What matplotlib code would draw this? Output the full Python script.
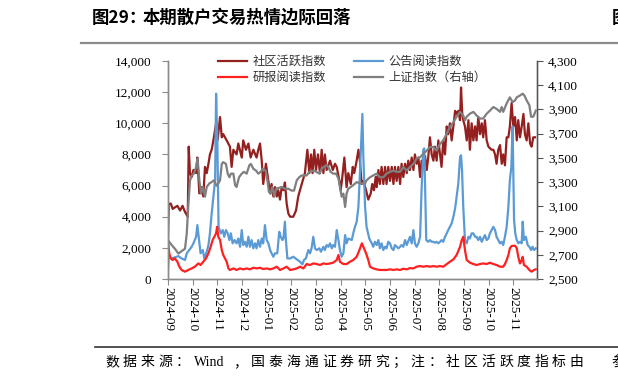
import matplotlib
matplotlib.use('Agg')
import matplotlib.pyplot as plt
from matplotlib.lines import Line2D

plt.rcParams['font.family'] = ['Noto Sans CJK SC', 'DejaVu Sans']

# x = months since 2024-09 (fractional)
month_labels = ['2024-09', '2024-10', '2024-11', '2024-12', '2025-01', '2025-02',
                '2025-03', '2025-04', '2025-05', '2025-06', '2025-07', '2025-08',
                '2025-09', '2025-10', '2025-11']

# 社区活跃指数
comm_x = [0.00, 0.03, 0.11, 0.19, 0.28, 0.38, 0.49, 0.59, 0.69, 0.76, 0.80, 0.84, 0.89, 0.96,
          1.03, 1.14, 1.19, 1.27, 1.36, 1.43, 1.50, 1.57, 1.64, 1.70, 1.77, 1.84, 1.95, 2.01,
          2.11, 2.18, 2.24, 2.38, 2.51, 2.58, 2.65, 2.78, 2.85, 2.99, 3.05, 3.16, 3.26, 3.35,
          3.46, 3.59, 3.66, 3.73, 3.80, 3.86, 3.97, 4.07, 4.14, 4.20, 4.27, 4.34, 4.41, 4.47,
          4.54, 4.61, 4.68, 4.74, 4.81, 4.88, 4.95, 5.08, 5.19, 5.28, 5.35, 5.46, 5.55, 5.65,
          5.73, 5.80, 5.86, 5.93, 6.00, 6.08, 6.16, 6.23, 6.30, 6.36, 6.43, 6.57, 6.68, 6.77,
          6.84, 6.95, 7.00, 7.05, 7.15, 7.24, 7.31, 7.41, 7.49, 7.55, 7.65, 7.72, 7.78, 7.85,
          7.92, 8.03, 8.12, 8.22, 8.28, 8.35, 8.42, 8.46, 8.53, 8.59, 8.66, 8.73, 8.80, 8.86,
          8.93, 9.00, 9.07, 9.14, 9.20, 9.27, 9.34, 9.41, 9.47, 9.54, 9.61, 9.68, 9.74, 9.81,
          9.88, 9.95, 10.01, 10.08, 10.15, 10.22, 10.28, 10.35, 10.42, 10.49, 10.55, 10.62,
          10.69, 10.76, 10.82, 10.89, 10.96, 11.03, 11.09, 11.16, 11.23, 11.30, 11.36, 11.43,
          11.50, 11.57, 11.64, 11.70, 11.77, 11.84, 11.88, 11.93, 11.97, 12.04, 12.11, 12.18,
          12.24, 12.31, 12.38, 12.45, 12.51, 12.58, 12.65, 12.72, 12.78, 12.85, 12.92, 12.99,
          13.05, 13.12, 13.19, 13.26, 13.32, 13.39, 13.46, 13.53, 13.59, 13.66, 13.73, 13.80,
          13.86, 13.93, 14.00, 14.07, 14.14, 14.20, 14.27, 14.34, 14.41, 14.47, 14.54, 14.61,
          14.68, 14.74, 14.81, 14.88]
comm_y = [2500, 4800, 4850, 4500, 4600, 4700, 4400, 4700, 4300, 4100, 4000, 8500, 6800, 6550,
          7000, 6800, 7800, 5500, 5900, 5300, 7200, 6800, 7400, 8000, 8300, 8900, 10000, 8900,
          10400, 9100, 9300, 8900, 8500, 7200, 8300, 8000, 8700, 7800, 8900, 8300, 8700, 7800,
          8300, 7800, 8300, 8700, 7600, 6100, 7400, 6300, 5500, 6100, 5300, 5900, 5300, 5700,
          5100, 5900, 5700, 6200, 4850, 4200, 4000, 4000, 4400, 5300, 5700, 6300, 6800, 8300,
          6800, 8000, 6800, 8300, 7000, 8000, 6800, 8300, 6800, 8000, 7000, 7600, 7000, 7400,
          7200, 6300, 5700, 6300, 7800, 5900, 6800, 6100, 7200, 6800, 7600, 8300, 7600, 6100,
          6300, 5700, 5100, 5500, 6100, 5700, 6550, 5900, 7000, 6100, 7200, 6100, 7200, 6100,
          7200, 6300, 7200, 6100, 7200, 6300, 7200, 6100, 7400, 6550, 7400, 6800, 7600, 7000,
          7800, 7000, 8000, 7400, 7800, 6550, 7600, 7200, 7900, 7000, 7800, 9100,
          8000, 7600, 8500, 7600, 8900, 8000, 7200, 8900, 8000, 9800, 9300, 10000,
          8900, 9800, 10800, 10600, 10800, 10200, 12300, 10600, 10200, 9800, 8900, 10200,
          8300, 10000, 8900, 9800, 8900, 10400, 9300, 10000, 9100, 10200, 8900, 8500,
          8400, 8300, 8300, 8000, 7400, 8300, 8600, 7400, 8000, 7300, 9100, 9100,
          9800, 11300, 9800, 10400, 8900, 10200, 9100, 9800, 10600, 9300, 8900, 10000,
          8700, 8500, 9100, 9100]

# 公告阅读指数
ann_x = [0.00, 0.03, 0.15, 0.28, 0.42, 0.55, 0.69, 0.76, 0.86, 0.96, 1.03, 1.14, 1.19, 1.26,
         1.32, 1.41, 1.47, 1.57, 1.64, 1.70, 1.77, 1.84, 1.91, 1.95, 2.00, 2.05, 2.14, 2.22,
         2.28, 2.35, 2.42, 2.49, 2.55, 2.62, 2.70, 2.78, 2.85, 2.92, 2.99, 3.05, 3.12, 3.19,
         3.26, 3.32, 3.39, 3.46, 3.53, 3.59, 3.66, 3.73, 3.80, 3.86, 3.93, 4.00, 4.07, 4.14,
         4.20, 4.27, 4.34, 4.43, 4.51, 4.57, 4.64, 4.68, 4.74, 4.78, 4.84, 4.95, 5.08, 5.22,
         5.35, 5.45, 5.51, 5.59, 5.69, 5.76, 5.82, 5.89, 5.96, 6.03, 6.14, 6.20, 6.30, 6.36,
         6.43, 6.50, 6.57, 6.64, 6.70, 6.77, 6.84, 6.91, 6.97, 7.04, 7.11, 7.18, 7.24, 7.31,
         7.45, 7.51, 7.58, 7.65, 7.72, 7.78, 7.88, 7.92, 7.99, 8.05, 8.16, 8.26, 8.32, 8.39,
         8.46, 8.53, 8.59, 8.66, 8.73, 8.80, 8.86, 8.93, 9.00, 9.07, 9.14, 9.20, 9.27, 9.34,
         9.41, 9.47, 9.54, 9.61, 9.68, 9.81, 9.88, 9.95, 10.01, 10.08, 10.15, 10.22, 10.28,
         10.35, 10.39, 10.43, 10.47, 10.55, 10.62, 10.69, 10.76, 10.82, 10.89, 10.96, 11.03,
         11.09, 11.16, 11.23, 11.30, 11.36, 11.43, 11.50, 11.57, 11.64, 11.70, 11.77, 11.84,
         11.88, 11.92, 11.97, 12.04, 12.11, 12.18, 12.24, 12.31, 12.38, 12.45, 12.51, 12.58,
         12.65, 12.72, 12.78, 12.85, 12.92, 12.99, 13.05, 13.12, 13.19, 13.26, 13.32, 13.39,
         13.46, 13.53, 13.59, 13.66, 13.73, 13.80, 13.86, 13.92, 13.97, 14.03, 14.08, 14.14,
         14.20, 14.27, 14.34, 14.38, 14.43, 14.51, 14.58, 14.65, 14.72, 14.78, 14.84, 14.91]
ann_y = [580, 1430, 1320, 1390, 1470, 1320, 1220, 1650, 1860, 2070, 2290, 2710, 3460, 2500,
         1650, 1860, 1320, 1750, 2180, 2930, 4200, 5280, 6350, 11900, 8900, 3350, 2930, 3140,
         2710, 3140, 2930, 2500, 2930, 2290, 2500, 2290, 2600, 2070, 3140, 2180, 2390, 2070,
         2710, 2070, 2500, 1970, 2290, 1970, 2500, 2070, 2600, 2290, 3460, 2500, 2290, 1860,
         1650, 1430, 1650, 1650, 3030, 2710, 2500, 2600, 3680, 2500, 1320, 1320, 1430, 1260,
         1110, 940, 1220, 1320, 1860, 1650, 1970, 2710, 1970, 1860, 1970, 1750, 2070, 1860,
         2180, 2070, 2290, 1970, 2180, 2070, 3140, 2500, 1860, 1430, 1650, 2820, 2290, 2600,
         2500, 2930, 3350, 3680, 4640, 6770, 10600, 7840, 4640, 3350, 2600, 2290, 2070, 2390,
         2180, 2500, 1970, 2290, 1860, 2070, 1970, 2390, 2290, 1970, 1860, 2180, 2070, 1970,
         2070, 2180, 2070, 2500, 2180, 2710, 2290, 3140, 2290, 2070, 2290, 2710, 5710,
         8300, 8380, 5490, 2500, 2390, 2500, 2390, 2390, 2330, 2390, 2290, 2390,
         2500, 2390, 2710, 2930, 3140, 3350, 3570, 4000, 4530, 5280, 6130, 7840,
         7950, 7000, 4640, 2500, 2290, 2710, 2600, 2930, 2930, 2710, 2710, 2500,
         2710, 2390, 2600, 2820, 2500, 2600, 2930, 3140, 3350, 3140, 2710, 2500,
         2290, 2390, 2180, 2710, 3350, 4640, 6350, 7200, 9800, 3780, 2930, 2500,
         2290, 2390, 2290, 3680, 2500, 2710, 2180, 2070, 1860, 2070, 1860, 1970]

# 研报阅读指数
rpt_x = [0.00, 0.05, 0.11, 0.19, 0.28, 0.38, 0.46, 0.55, 0.69, 0.82, 0.96, 1.09, 1.23, 1.32,
         1.43, 1.54, 1.64, 1.73, 1.81, 1.88, 1.95, 1.99, 2.04, 2.11, 2.18, 2.24, 2.31, 2.38,
         2.45, 2.51, 2.65, 2.78, 2.92, 3.05, 3.19, 3.32, 3.46, 3.59, 3.73, 3.86, 4.00, 4.14,
         4.27, 4.41, 4.54, 4.68, 4.81, 4.95, 5.08, 5.22, 5.35, 5.49, 5.62, 5.76, 5.89, 6.03,
         6.16, 6.30, 6.43, 6.57, 6.70, 6.84, 6.91, 6.97, 7.11, 7.24, 7.38, 7.51, 7.65, 7.76,
         7.86, 7.92, 8.03, 8.12, 8.19, 8.32, 8.46, 8.59, 8.73, 8.86, 9.00, 9.14, 9.27, 9.41,
         9.54, 9.68, 9.81, 9.95, 10.08, 10.22, 10.35, 10.49, 10.62, 10.76, 10.89, 11.03,
         11.16, 11.30, 11.43, 11.57, 11.70, 11.84, 11.91, 11.97, 12.04, 12.11, 12.24, 12.38,
         12.51, 12.65, 12.78, 12.92, 13.05, 13.19, 13.32, 13.46, 13.59, 13.66, 13.73, 13.80,
         13.86, 13.93, 14.07, 14.14, 14.20, 14.27, 14.34, 14.38, 14.43, 14.54, 14.65, 14.74,
         14.84, 14.91]
rpt_y = [2500, 1650, 1320, 1220, 1320, 1110, 790, 580, 470, 580, 680, 790, 1000, 900,
         1110, 1320, 1650, 2070, 2500, 2710, 2930, 3350, 2710, 2500, 1860, 1540, 1320, 1110,
         680, 580, 680, 580, 680, 620, 680, 620, 720, 680, 720, 640, 680, 620,
         680, 790, 580, 680, 790, 580, 620, 680, 790, 680, 960, 900, 1000, 960,
         900, 1000, 960, 1000, 1050, 1220, 1540, 1110, 960, 960, 1110, 1220, 1430, 1860,
         2290, 2070, 1650, 1220, 790, 680, 620, 580, 580, 580, 620, 580, 620, 580,
         660, 620, 700, 680, 790, 830, 790, 830, 790, 830, 790, 830,
         790, 960, 1110, 1260, 1540, 2070, 2500, 2710, 1860, 1220, 1050, 960,
         900, 960, 1000, 960, 1050, 960, 900, 790, 790, 960, 1220, 1540,
         1970, 2120, 2140, 1970, 1430, 1000, 1220, 1430, 900, 790, 580, 470,
         580, 620]

# 上证指数 (right axis)
sh_x = [0.00, 0.15, 0.28, 0.42, 0.55, 0.69, 0.76, 0.82, 0.89, 0.96, 1.05, 1.14, 1.20, 1.27,
        1.34, 1.41, 1.50, 1.57, 1.68, 1.77, 1.86, 1.97, 2.04, 2.11, 2.18, 2.24, 2.35, 2.42,
        2.49, 2.55, 2.65, 2.72, 2.78, 2.88, 2.99, 3.08, 3.19, 3.30, 3.36, 3.46, 3.57, 3.66,
        3.76, 3.84, 3.96, 4.03, 4.09, 4.16, 4.23, 4.31, 4.38, 4.61, 4.74, 4.88, 5.01, 5.11,
        5.22, 5.32, 5.42, 5.62, 5.73, 5.92, 6.14, 6.23, 6.32, 6.41, 6.50, 6.59, 6.70, 6.81,
        6.91, 6.97, 7.04, 7.11, 7.18, 7.24, 7.31, 7.41, 7.51, 7.65, 7.78, 7.99, 8.05, 8.19,
        8.32, 8.46, 8.59, 8.73, 8.86, 9.00, 9.14, 9.27, 9.41, 9.54, 9.68, 9.81, 9.95, 10.08,
        10.22, 10.35, 10.49, 10.62, 10.76, 10.89, 11.03, 11.16, 11.30, 11.43, 11.57, 11.70,
        11.84, 11.97, 12.04, 12.11, 12.24, 12.38, 12.51, 12.65, 12.78, 12.92, 13.05, 13.19,
        13.32, 13.46, 13.53, 13.59, 13.73, 13.86, 13.97, 14.07, 14.14, 14.27, 14.38, 14.45,
        14.54, 14.65, 14.72, 14.81, 14.91]
sh_y = [2820, 2780, 2750, 2710, 2730, 2750, 2875, 3095, 3310, 3355, 3370, 3425, 3495, 3315,
        3205, 3260, 3180, 3260, 3290, 3300, 3315, 3270, 3290, 3315, 3450, 3465, 3450, 3370,
        3340, 3370, 3370, 3275, 3260, 3340, 3370, 3385, 3370, 3440, 3450, 3410, 3395, 3370,
        3385, 3410, 3395, 3315, 3220, 3205, 3260, 3180, 3245, 3260, 3245, 3245, 3230, 3230,
        3315, 3340, 3355, 3355, 3385, 3395, 3370, 3410, 3425, 3440, 3425, 3385, 3370, 3370,
        3330, 3260, 3180, 3205, 3095, 3205, 3245, 3260, 3275, 3300, 3290, 3290, 3315, 3340,
        3355, 3370, 3340, 3340, 3370, 3385, 3395, 3385, 3385, 3425, 3395, 3425, 3450, 3495,
        3505, 3535, 3560, 3590, 3590, 3560, 3615, 3645, 3700, 3755, 3795, 3840,
        3880, 3850, 3810, 3840, 3865, 3880, 3850, 3825, 3825, 3865, 3890, 3920,
        3905, 3880, 3920, 3880, 3950, 4000, 3960, 3975, 4000, 4015, 4030, 4015,
        3975, 3935, 3840, 3840, 3890]

W, H = 618, 384
fig = plt.figure(figsize=(W / 100, H / 100), dpi=100)


def fx(px):
    return px / W


def fy(py):
    return 1 - py / H


ax = fig.add_axes([fx(168), fy(279), fx(537) - fx(168), fy(61) - fy(279)])
ax2 = ax.twinx()

c_comm = '#93201f'
c_ann = '#5b9bd5'
c_rpt = '#ff2020'
c_sh = '#7f7f7f'
lw = 1.6

l1, = ax.plot(comm_x, comm_y, color=c_comm, lw=lw, label='社区活跃指数')
l2, = ax.plot(ann_x, ann_y, color=c_ann, lw=lw, label='公告阅读指数')
l3, = ax.plot(rpt_x, rpt_y, color=c_rpt, lw=lw, label='研报阅读指数')
l4, = ax2.plot(sh_x, sh_y, color=c_sh, lw=lw, label='上证指数（右轴）')

ax.set_xlim(0, 14.96)
ax.set_ylim(0, 14000)
ax2.set_ylim(2500, 4300)

serif = 'Liberation Serif'
ax.set_yticks(range(0, 14001, 2000))
ax.set_yticklabels([f'{v:,}' for v in range(0, 14001, 2000)], fontfamily=serif, fontsize=9.5)
ax2.set_yticks(range(2500, 4301, 200))
ax2.set_yticklabels([f'{v:,}' for v in range(2500, 4301, 200)], fontfamily=serif, fontsize=9.5)
ax.set_xticks(range(len(month_labels)))
ax.set_xticklabels(month_labels, rotation=270, fontfamily=serif, fontsize=9.5)

spine_c = '#8c8c8c'
for a in (ax, ax2):
    a.spines['top'].set_visible(False)
    for s in ('left', 'bottom', 'right'):
        a.spines[s].set_color(spine_c)
        a.spines[s].set_linewidth(1.0)
ax2.spines['right'].set_color('#555555')
ax.tick_params(axis='y', length=4, width=0.8, color=spine_c, pad=8)
ax.tick_params(axis='x', length=4, width=0.8, color=spine_c, pad=2)
ax2.tick_params(axis='y', length=4, width=0.8, color='#555555', pad=4)

# legend fills column-wise, so order handles to get the reference's rows
leg = ax2.legend(handles=[l1, l3, l2, l4], ncol=2, frameon=False, fontsize=8.8,
                 loc='upper left', bbox_to_anchor=(fx(218), fy(55)),
                 bbox_transform=fig.transFigure, borderpad=0, borderaxespad=0,
                 handlelength=2.4, handletextpad=0.4, columnspacing=2.3,
                 labelspacing=0.25)
for t in leg.get_texts():
    t.set_color('#333333')

# title
fig.text(fx(92), fy(18), '图29：', fontsize=12.5, fontweight='bold', va='center', ha='left')
fig.text(fx(143), fy(18), '本期散户交易热情边际回落', fontsize=12.5, fontweight='bold',
         va='center', ha='left')
fig.text(fx(612), fy(18), '图', fontsize=12.5, fontweight='bold', va='center', ha='left')
fig.add_artist(Line2D([fx(81), 1], [fy(43), fy(43)], color='#8c8c8c', lw=1.6,
                      transform=fig.transFigure))

# footer
fig.add_artist(Line2D([fx(95), 1], [fy(347), fy(347)], color='#333333', lw=1.2,
                      transform=fig.transFigure))
footer_tokens = ['数', '据', '来', '源', '：', 'Wind', '，', '国', '泰', '海', '通', '证', '券',
                 '研', '究', '；', '注', '：', '社', '区', '活', '跃', '度', '指', '标', '由']
x = 105
for tok in footer_tokens:
    if tok == 'Wind':
        fig.text(fx(x), fy(362), tok, fontsize=10, va='center', ha='left', fontfamily=serif)
        x += 40
    else:
        fig.text(fx(x), fy(362), tok, fontsize=10, va='center', ha='left')
        x += 17.7
fig.text(fx(611), fy(362), '参', fontsize=10, va='center', ha='left')

fig.savefig('out.png', dpi=100)
